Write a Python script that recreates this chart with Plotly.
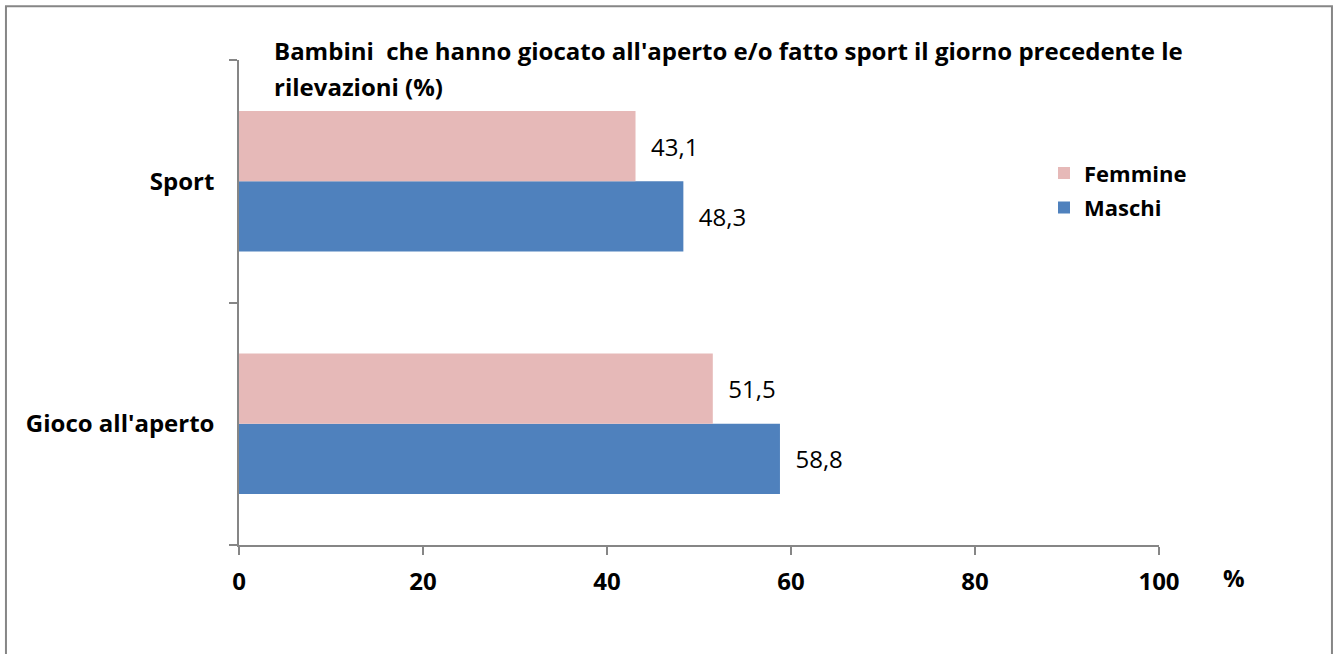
import plotly.graph_objects as go

# dati
categorie = ["Gioco all'aperto", "Sport"]
maschi = [58.8, 48.3]
femmine = [51.5, 43.1]
x_ticks = [0, 20, 40, 60, 80, 100]
titolo = ["Bambini  che hanno giocato all'aperto e/o fatto sport il giorno precedente le",
          "rilevazioni (%)"]

FONT = "Open Sans"
GRIGIO = "#868686"
PAD = "\u00a0\u00a0"  # un po' di spazio tra barra ed etichetta

fig = go.Figure()

# Maschi prima: in orizzontale la prima traccia sta in basso nel gruppo
fig.add_trace(go.Bar(
    y=categorie, x=maschi, orientation="h", name="Maschi",
    legendgroup="m", legendrank=2,
    marker=dict(color="#4F81BD", line=dict(width=0)),
    text=[PAD + f"{v:.1f}".replace(".", ",") for v in maschi],
    textposition="outside", cliponaxis=False,
    textfont=dict(family=FONT, size=24, color="#000000"),
))
fig.add_trace(go.Bar(
    y=categorie, x=femmine, orientation="h", name="Femmine",
    legendgroup="f", legendrank=1,
    marker=dict(color="#E6B9B8", line=dict(width=0)),
    text=[PAD + f"{v:.1f}".replace(".", ",") for v in femmine],
    textposition="outside", cliponaxis=False,
    textfont=dict(family=FONT, size=24, color="#000000"),
))

# titolo su due righe, come annotazioni separate per controllare l'interlinea
ann = [
    dict(
        text=riga, xref="paper", yref="paper", x=0.036, y=yy,
        xanchor="left", yanchor="middle", align="left", showarrow=False,
        font=dict(family=FONT, size=24, color="#000000", weight="bold"),
    )
    for riga, yy in zip(titolo, [1.0206, 0.946])
]
ann.append(dict(
    text="%", xref="paper", yref="paper", x=1.081, y=-0.068,
    xanchor="center", yanchor="middle", showarrow=False,
    font=dict(family=FONT, size=24, color="#000000", weight="bold"),
))

fig.update_layout(
    width=1337, height=654,
    margin=dict(l=239, r=178, t=60, b=109),
    paper_bgcolor="white", plot_bgcolor="white",
    barmode="group", bargap=0.42, bargroupgap=0,
    font=dict(family=FONT, color="#000000"),
    showlegend=True,
    legend=dict(
        x=0.875, y=0.81, xanchor="left", yanchor="top",
        traceorder="grouped",
        font=dict(family=FONT, size=22, color="#000000", weight="bold"),
        itemwidth=30, tracegroupgap=3,
        bgcolor="rgba(0,0,0,0)",
    ),
    xaxis=dict(
        range=[0, 100], tickvals=x_ticks, ticktext=[str(t) for t in x_ticks],
        showgrid=False, zeroline=False,
        showline=True, linecolor=GRIGIO, linewidth=1.5,
        ticks="outside", ticklen=8, tickcolor=GRIGIO, tickwidth=1.5,
        tickfont=dict(family=FONT, size=24, color="#000000", weight="bold"),
        ticklabelstandoff=6,
    ),
    yaxis=dict(
        showgrid=False, zeroline=False,
        showline=True, linecolor=GRIGIO, linewidth=1.5,
        ticks="outside", ticklen=8, tickcolor=GRIGIO, tickwidth=1.5,
        tickson="boundaries",
        tickfont=dict(family=FONT, size=24, color="#000000", weight="bold"),
        ticklabelstandoff=18,
    ),
    annotations=ann,
    shapes=[
        dict(
            type="rect", xref="paper", yref="paper",
            x0=-0.2533, x1=1.188, y0=-0.25, y1=1.111,
            line=dict(color=GRIGIO, width=2), fillcolor="rgba(0,0,0,0)",
            layer="below",
        ),
    ],
)

fig.write_html("out.html", config={"displayModeBar": False},
               post_script="document.body.style.margin='0';")
